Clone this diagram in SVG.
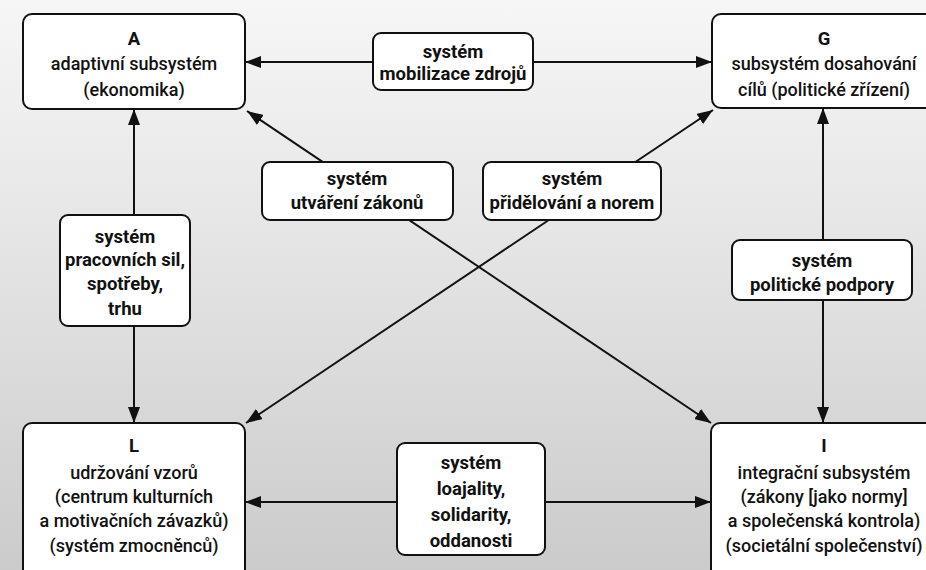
<svg xmlns="http://www.w3.org/2000/svg" width="926" height="570" viewBox="0 0 926 570">
<defs>
<linearGradient id="bg" x1="0" y1="0" x2="0" y2="1">
<stop offset="0" stop-color="#f6f6f6"/>
<stop offset="0.4" stop-color="#e6e6e6"/>
<stop offset="1" stop-color="#cbcbcb"/>
</linearGradient>
<marker id="ah" viewBox="0 0 16 12" refX="16" refY="6" markerWidth="16" markerHeight="12" markerUnits="userSpaceOnUse" orient="auto-start-reverse">
<path d="M0,0 L16,6 L0,12 Z" fill="#111"/>
</marker>
<style>
.box{fill:#fff;stroke:#111;stroke-width:2}
.t{font-family:Roboto,"DejaVu Sans",sans-serif;font-size:18px;font-weight:500;fill:#111;text-anchor:middle}
.b{font-weight:bold;font-size:18.5px}
.c{stroke:#111;stroke-width:2;fill:none;marker-start:url(#ah);marker-end:url(#ah)}
.l{stroke:#111;stroke-width:2;fill:none}
</style>
</defs>
<rect width="926" height="570" fill="url(#bg)"/>
<g id="connectors">
<path class="l" d="M245,62 L373,62" marker-start="url(#ah)"/>
<path class="l" d="M533,62 L712,62" marker-end="url(#ah)"/>
<path class="c" d="M134,109 L134,423"/>
<path class="c" d="M823,108 L823,423"/>
<path class="l" d="M245,502 L397,502" marker-start="url(#ah)"/>
<path class="l" d="M545,502 L711,502" marker-end="url(#ah)"/>
<path class="c" d="M247,111 L711,423"/>
<path class="c" d="M713,110 L246,423"/>
</g>
<g id="A">
<rect class="box" x="23" y="14" width="222" height="95" rx="9"/>
<text class="t b" x="134" y="45">A</text>
<text class="t" x="134" y="70">adaptivní subsystém</text>
<text class="t" x="134" y="96">(ekonomika)</text>
</g>
<g id="G">
<rect class="box" x="712" y="14" width="226" height="94" rx="9"/>
<text class="t b" x="824" y="45">G</text>
<text class="t" x="824" y="70">subsystém dosahování</text>
<text class="t" x="824" y="96">cílů (politické zřízení)</text>
</g>
<g id="L">
<rect class="box" x="23" y="423" width="222" height="160" rx="9"/>
<text class="t b" x="134" y="452">L</text>
<text class="t" x="134" y="479">udržování vzorů</text>
<text class="t" x="134" y="503">(centrum kulturních</text>
<text class="t" x="134" y="527">a motivačních závazků)</text>
<text class="t" x="134" y="552">(systém zmocněnců)</text>
</g>
<g id="I">
<rect class="box" x="711" y="423" width="226" height="160" rx="9"/>
<text class="t b" x="824" y="452">I</text>
<text class="t" x="824" y="479">integrační subsystém</text>
<text class="t" x="824" y="503">(zákony [jako normy]</text>
<text class="t" x="824" y="527">a společenská kontrola)</text>
<text class="t" x="824" y="552">(societální společenství)</text>
</g>
<g id="mobilizace">
<rect class="box" x="373" y="33" width="160" height="57" rx="8"/>
<text class="t b" x="453" y="58">systém</text>
<text class="t b" x="453" y="80">mobilizace zdrojů</text>
</g>
<g id="utvareni">
<rect class="box" x="262" y="162" width="191" height="58" rx="8"/>
<text class="t b" x="357" y="185">systém</text>
<text class="t b" x="357" y="209">utváření zákonů</text>
</g>
<g id="pridelovani">
<rect class="box" x="483" y="162" width="178" height="58" rx="8"/>
<text class="t b" x="572" y="185">systém</text>
<text class="t b" x="572" y="209">přidělování a norem</text>
</g>
<g id="pracovni">
<rect class="box" x="60" y="215" width="130" height="111" rx="8"/>
<text class="t b" x="125" y="243">systém</text>
<text class="t b" x="125" y="266">pracovních sil,</text>
<text class="t b" x="125" y="290">spotřeby,</text>
<text class="t b" x="125" y="315">trhu</text>
</g>
<g id="podpora">
<rect class="box" x="732" y="240" width="180" height="60" rx="8"/>
<text class="t b" x="822" y="267">systém</text>
<text class="t b" x="822" y="291">politické podpory</text>
</g>
<g id="loajalita">
<rect class="box" x="397" y="443" width="148" height="112" rx="8"/>
<text class="t b" x="471" y="469">systém</text>
<text class="t b" x="471" y="495">loajality,</text>
<text class="t b" x="471" y="521">solidarity,</text>
<text class="t b" x="471" y="547">oddanosti</text>
</g>
</svg>
